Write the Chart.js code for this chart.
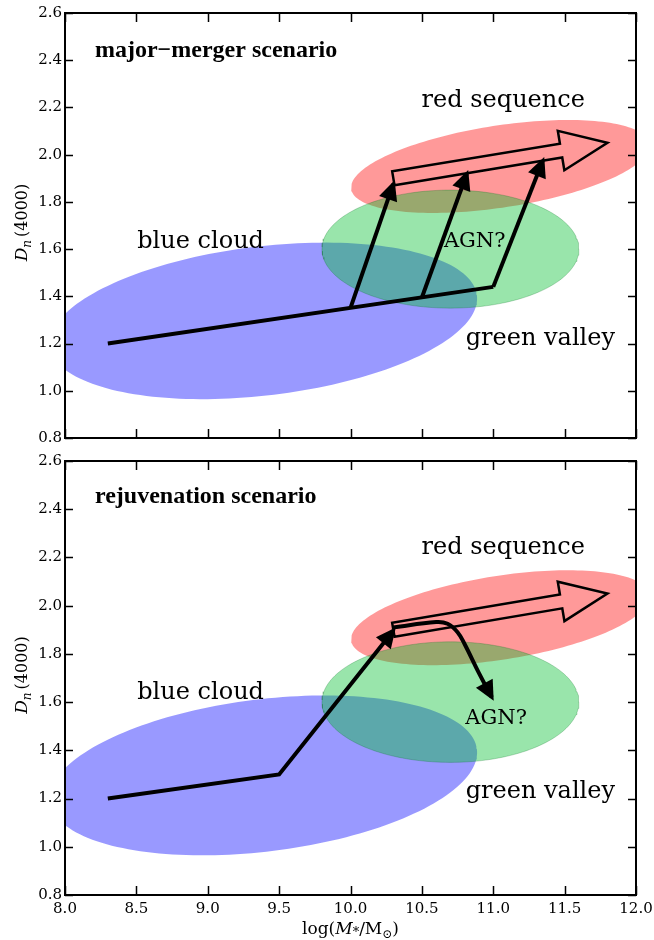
<!DOCTYPE html>
<html>
<head>
<meta charset="utf-8">
<script src="https://cdn.jsdelivr.net/npm/chart.js@4.4.1/dist/chart.umd.min.js"></script>
<style>
  body { margin: 0; background: #fff; }
  canvas { display: block; }
</style>
</head>
<body>
<canvas id="mergerChart" width="654" height="450"></canvas>
<canvas id="rejuvChart" width="654" height="490"></canvas>
<script>
const xTicks = [8.0, 8.5, 9.0, 9.5, 10.0, 10.5, 11.0, 11.5, 12.0];
const yTicks = [0.8, 1.0, 1.2, 1.4, 1.6, 1.8, 2.0, 2.2, 2.4, 2.6];

// regions: centre x, centre y, width, height, angle (deg, in data units)
const blueCloud = [9.39, 1.296, 3.0, 0.634, 3.8];
const greenValley = [10.7, 1.6, 1.8, 0.5, 0];
const redSequence = [11.05, 1.95, 2.1, 0.35, 5];

// top panel: major merger
const mergerTrackX = [8.3, 11.0];
const mergerTrackY = [1.2, 1.44];
const quenchStartX = [10.0, 10.5, 11.0];
const quenchStartY = [1.351, 1.395, 1.44];
const quenchEndX = [10.3, 10.815, 11.347];
const quenchEndY = [1.876, 1.919, 1.974];

// hollow arrow along the red sequence (both panels)
const redArrowX = [10.3, 11.8];
const redArrowY = [1.9, 2.05];

// bottom panel: rejuvenation
const rejuvTrackX = [8.3, 9.5, 10.3];
const rejuvTrackY = [1.2, 1.3, 1.896];
const agnCurveX = [10.3, 10.6, 10.68, 10.75, 10.8, 10.9, 10.99];
const agnCurveY = [1.91, 1.932, 1.925, 1.89, 1.84, 1.72, 1.62];

const labelText = ['red sequence', 'blue cloud', 'green valley'];
const labelX = [11.07, 8.95, 11.33];
const labelYTop = [2.23, 1.63, 1.22];
const labelYBottom = [2.24, 1.64, 1.23];
const agnLabelTop = [10.87, 1.63];
const agnLabelBottom = [11.02, 1.53];

const serif = '"DejaVu Serif", serif';

// outline of an ellipse in data units
function ellipsePoints(e) {
    const [cx, cy, w, h, ang] = e;
    const a = ang * Math.PI / 180;
    const pts = [];
    for (let i = 0; i <= 180; i++) {
        const t = i / 180 * 2 * Math.PI;
        const u = w / 2 * Math.cos(t), v = h / 2 * Math.sin(t);
        pts.push({ x: cx + u * Math.cos(a) - v * Math.sin(a), y: cy + u * Math.sin(a) + v * Math.cos(a) });
    }
    return pts;
}

function toPoints(xs, ys) {
    return xs.map((x, i) => ({ x: x, y: ys[i] }));
}

function regionSets() {
    return [
        { data: ellipsePoints(greenValley), showLine: true, fill: 'shape', backgroundColor: 'rgba(0,190,45,0.4)',
          borderColor: 'rgba(0,110,30,0.25)', borderWidth: 1, pointRadius: 0, order: 1 },
        { data: ellipsePoints(blueCloud), showLine: true, fill: 'shape', backgroundColor: 'rgba(0,0,255,0.4)',
          borderColor: 'rgba(0,0,0,0)', borderWidth: 0, pointRadius: 0, order: 2 },
        { data: ellipsePoints(redSequence), showLine: true, fill: 'shape', backgroundColor: 'rgba(255,0,0,0.4)',
          borderColor: 'rgba(0,0,0,0)', borderWidth: 0, pointRadius: 0, order: 3 }
    ];
}

function lineSet(points, head, tension) {
    return { data: points, showLine: true, fill: false, borderColor: '#000', borderWidth: 4,
             borderCapStyle: 'butt', borderJoinStyle: 'miter', pointRadius: 0, tension: tension || 0,
             arrowHead: head, order: 0 };
}

function drawHead(ctx, from, to) {
    let dx = to.x - from.x, dy = to.y - from.y;
    const len = Math.hypot(dx, dy);
    dx /= len; dy /= len;
    const tx = to.x + dx * 4, ty = to.y + dy * 4;
    const bx = tx - dx * 20, by = ty - dy * 20;
    ctx.beginPath();
    ctx.moveTo(tx, ty);
    ctx.lineTo(bx - dy * 9.5, by + dx * 9.5);
    ctx.lineTo(bx + dy * 9.5, by - dx * 9.5);
    ctx.closePath();
    ctx.fillStyle = '#000';
    ctx.fill();
}

function drawHollow(ctx, s, t) {
    let dx = t.x - s.x, dy = t.y - s.y;
    const len = Math.hypot(dx, dy);
    dx /= len; dy /= len;
    const nx = -dy, ny = dx;
    const bx = t.x - dx * 47, by = t.y - dy * 47;
    const bw = 7, hw = 20;
    ctx.beginPath();
    ctx.moveTo(s.x + nx * bw, s.y + ny * bw);
    ctx.lineTo(bx + nx * bw, by + ny * bw);
    ctx.lineTo(bx + nx * hw, by + ny * hw);
    ctx.lineTo(t.x, t.y);
    ctx.lineTo(bx - nx * hw, by - ny * hw);
    ctx.lineTo(bx - nx * bw, by - ny * bw);
    ctx.lineTo(s.x - nx * bw, s.y - ny * bw);
    ctx.closePath();
    ctx.lineWidth = 2.5;
    ctx.lineJoin = 'miter';
    ctx.strokeStyle = '#000';
    ctx.stroke();
}

// text made of several pieces (italic, subscripts)
function drawRich(ctx, parts, cx, cy) {
    let total = 0;
    parts.forEach(p => { ctx.font = p.font; total += ctx.measureText(p.t).width + (p.gap || 0); });
    let x = cx - total / 2;
    ctx.textAlign = 'left';
    ctx.textBaseline = 'alphabetic';
    parts.forEach(p => {
        ctx.font = p.font;
        x += p.gap || 0;
        ctx.fillText(p.t, x, cy + (p.dy || 0));
        x += ctx.measureText(p.t).width;
    });
}

const panelPlugin = {
    id: 'panel',
    afterDatasetsDraw(chart, args, opts) {
        const ctx = chart.ctx;
        const xs = chart.scales.x, ys = chart.scales.y;
        const area = chart.chartArea;
        ctx.save();

        chart.data.datasets.forEach((ds, i) => {
            const pts = chart.getDatasetMeta(i).data;
            if (ds.arrowHead) drawHead(ctx, pts[pts.length - 2], pts[pts.length - 1]);
            if (ds.hollowArrow) drawHollow(ctx, pts[0], pts[1]);
        });

        ctx.fillStyle = '#000';
        ctx.textAlign = 'center';
        ctx.textBaseline = 'middle';
        ctx.font = '24px ' + serif;
        labelText.forEach((t, i) => {
            ctx.fillText(t, xs.getPixelForValue(labelX[i]), ys.getPixelForValue(opts.labelY[i]));
        });
        ctx.font = '21px ' + serif;
        ctx.fillText('AGN?', xs.getPixelForValue(opts.agn[0]), ys.getPixelForValue(opts.agn[1]));

        ctx.textAlign = 'left';
        ctx.font = 'bold 24px "Liberation Serif", serif';
        ctx.fillText(opts.title, xs.getPixelForValue(8.21), ys.getPixelForValue(opts.titleY));

        // frame and inward ticks
        ctx.strokeStyle = '#000';
        ctx.lineWidth = 1.5;
        ctx.beginPath();
        xTicks.forEach(v => {
            const px = Math.round(xs.getPixelForValue(v)) + 0.5;
            ctx.moveTo(px, area.bottom); ctx.lineTo(px, area.bottom - 9);
            ctx.moveTo(px, area.top); ctx.lineTo(px, area.top + 9);
        });
        yTicks.forEach(v => {
            const py = Math.round(ys.getPixelForValue(v)) + 0.5;
            ctx.moveTo(area.left, py); ctx.lineTo(area.left + 8, py);
            ctx.moveTo(area.right, py); ctx.lineTo(area.right - 8, py);
        });
        ctx.stroke();
        ctx.lineWidth = 2;
        ctx.strokeRect(area.left, area.top, area.right - area.left, area.bottom - area.top);

        // axis titles
        ctx.fillStyle = '#000';
        ctx.save();
        ctx.translate(22, (area.top + area.bottom) / 2 - 3);
        ctx.rotate(-Math.PI / 2);
        drawRich(ctx, [
            { t: 'D', font: 'italic 17px ' + serif },
            { t: 'n', font: 'italic 12px ' + serif, dy: 4 },
            { t: '(4000)', font: '16px ' + serif, gap: 3 }
        ], 0, 5);
        ctx.restore();

        if (opts.xTitle) {
            drawRich(ctx, [
                { t: 'log(', font: '17px ' + serif },
                { t: 'M', font: 'italic 17px ' + serif },
                { t: '*', font: '13px ' + serif, dy: 2 },
                { t: '/M', font: '17px ' + serif },
                { t: '\u2299', font: '12px ' + serif, dy: 4 },
                { t: ')', font: '17px ' + serif }
            ], (area.left + area.right) / 2, area.bottom + 39);
        }
        ctx.restore();
    }
};

function makeScales(showX, xHeight) {
    return {
        x: {
            type: 'linear', min: 8.0, max: 12.0,
            afterBuildTicks: s => { s.ticks = xTicks.map(v => ({ value: v })); },
            afterFit: s => { s.height = xHeight; s.paddingLeft = 0; s.paddingRight = 0; },
            grid: { display: false, drawTicks: false },
            border: { display: false },
            ticks: { display: showX, autoSkip: false, maxRotation: 0, padding: 5, color: '#000',
                     font: { family: 'DejaVu Serif', size: 15 }, callback: v => v.toFixed(1) }
        },
        y: {
            type: 'linear', min: 0.8, max: 2.6,
            afterBuildTicks: s => { s.ticks = yTicks.map(v => ({ value: v })); },
            afterFit: s => { s.width = 65; s.paddingTop = 0; s.paddingBottom = 0; },
            grid: { display: false, drawTicks: false },
            border: { display: false },
            ticks: { autoSkip: false, padding: 3, color: '#000',
                     font: { family: 'DejaVu Serif', size: 15 }, callback: v => v.toFixed(1) }
        }
    };
}

function commonOptions(scales, padTop, panel) {
    return {
        responsive: false,
        animation: false,
        devicePixelRatio: 1,
        layout: { padding: { left: 0, right: 18, top: padTop, bottom: 0 } },
        scales: scales,
        plugins: { legend: { display: false }, tooltip: { enabled: false }, panel: panel }
    };
}

const hollowSet = { data: toPoints(redArrowX, redArrowY), showLine: false, pointRadius: 0, hollowArrow: true, order: 0 };

// top panel
const mergerSets = [lineSet(toPoints(mergerTrackX, mergerTrackY), false)];
quenchStartX.forEach((x0, i) => {
    mergerSets.push(lineSet([{ x: x0, y: quenchStartY[i] }, { x: quenchEndX[i], y: quenchEndY[i] }], true));
});
mergerSets.push(Object.assign({}, hollowSet));

new Chart(document.getElementById('mergerChart'), {
    type: 'scatter',
    data: { datasets: mergerSets.concat(regionSets()) },
    options: commonOptions(makeScales(false, 12), 13,
        { labelY: labelYTop, agn: agnLabelTop, title: 'major\u2212merger scenario', titleY: 2.44, xTitle: false }),
    plugins: [panelPlugin]
});

// bottom panel
const rejuvSets = [
    lineSet(toPoints(rejuvTrackX, rejuvTrackY), true),
    lineSet(toPoints(agnCurveX, agnCurveY), true, 0.4),
    Object.assign({}, hollowSet)
];

new Chart(document.getElementById('rejuvChart'), {
    type: 'scatter',
    data: { datasets: rejuvSets.concat(regionSets()) },
    options: commonOptions(makeScales(true, 45), 11,
        { labelY: labelYBottom, agn: agnLabelBottom, title: 'rejuvenation scenario', titleY: 2.45, xTitle: true }),
    plugins: [panelPlugin]
});
</script>
</body>
</html>
